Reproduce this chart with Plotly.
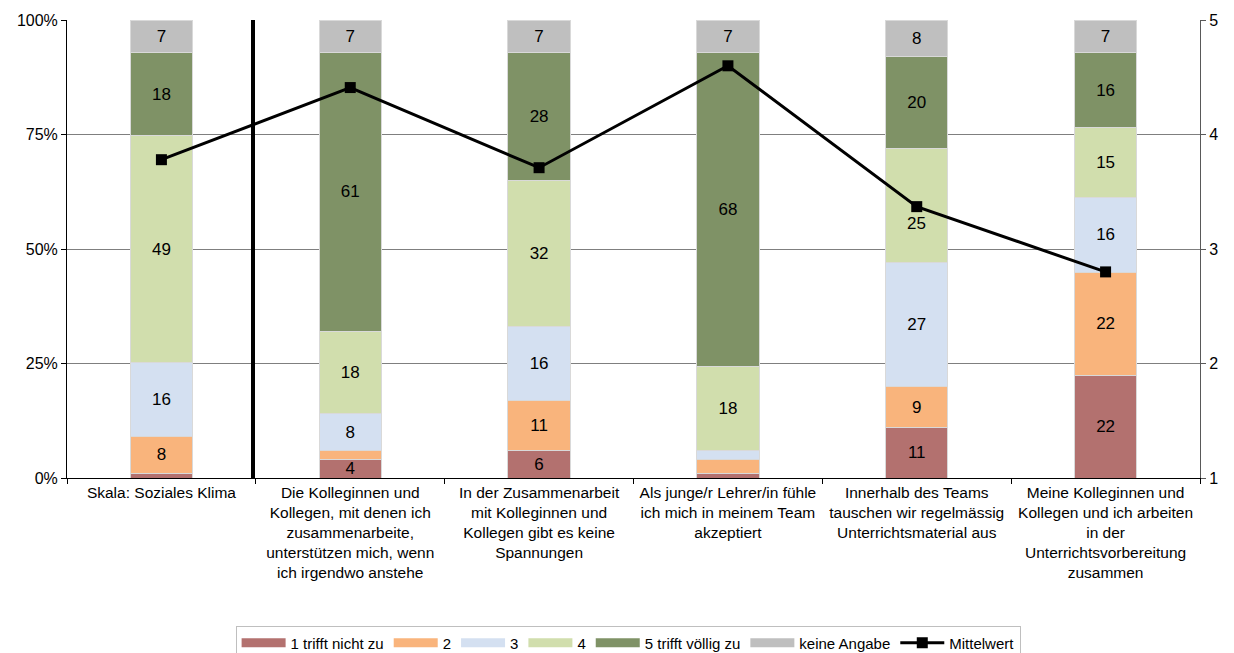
import plotly.graph_objects as go

# Items (x-axis categories)
categories = [
    "Skala: Soziales Klima",
    "Die Kolleginnen und<br>Kollegen, mit denen ich<br>zusammenarbeite,<br>unterstützen mich, wenn<br>ich irgendwo anstehe",
    "In der Zusammenarbeit<br>mit Kolleginnen und<br>Kollegen gibt es keine<br>Spannungen",
    "Als junge/r Lehrer/in fühle<br>ich mich in meinem Team<br>akzeptiert",
    "Innerhalb des Teams<br>tauschen wir regelmässig<br>Unterrichtsmaterial aus",
    "Meine Kolleginnen und<br>Kollegen und ich arbeiten<br>in der<br>Unterrichtsvorbereitung<br>zusammen",
]

# Answer shares in percent per answer category
trifft_nicht_zu = [1, 4, 6, 1, 11, 22]
stufe_2 = [8, 2, 11, 3, 9, 22]
stufe_3 = [16, 8, 16, 2, 27, 16]
stufe_4 = [49, 18, 32, 18, 25, 15]
trifft_voellig_zu = [18, 61, 28, 68, 20, 16]
keine_angabe = [7, 7, 7, 7, 8, 7]

# Mean score on the 1-5 scale
mittelwert = [3.78, 4.41, 3.71, 4.60, 3.37, 2.80]

# Left axis ticks
pct_ticks = [0, 25, 50, 75, 100]
pct_labels = ["0%", "25%", "50%", "75%", "100%"]

series = [
    ("1 trifft nicht zu", trifft_nicht_zu, "#B3716F"),
    ("2", stufe_2, "#F9B47C"),
    ("3", stufe_3, "#D4E0F1"),
    ("4", stufe_4, "#D1DEAD"),
    ("5 trifft völlig zu", trifft_voellig_zu, "#7F9266"),
    ("keine Angabe", keine_angabe, "#BFBFBF"),
]

FONT = "Liberation Sans, Arial, sans-serif"

# Label of the mean marker's neighbour segment that is nudged downwards
SHIFTED = (4, 3)  # (category index, series index)

fig = go.Figure()
for s_idx, (name, vals, color) in enumerate(series):
    labels = []
    for c_idx, v in enumerate(vals):
        if v < 4 or (c_idx, s_idx) == SHIFTED:
            labels.append("")
        else:
            labels.append(str(v))
    fig.add_trace(go.Bar(
        x=categories, y=vals, name=name, showlegend=False,
        marker=dict(color=color, line=dict(color="#D9D9D9", width=1)),
        text=labels,
        textposition="inside", insidetextanchor="middle", textangle=0,
        textfont=dict(color="black", size=17, family=FONT),
        hoverinfo="skip",
    ))
    # legend entry drawn as a wide flat swatch
    fig.add_trace(go.Scatter(
        x=[None], y=[None], name=name, mode="lines",
        line=dict(color=color, width=9), legendgroup=name,
    ))

fig.add_trace(go.Scatter(
    x=categories, y=mittelwert, name="Mittelwert", yaxis="y2",
    mode="lines+markers",
    line=dict(color="black", width=3),
    marker=dict(symbol="square", size=11, color="black"),
))

# Nudged label: placed at its segment's midpoint, shifted below the marker
c_idx, s_idx = SHIFTED
col_total = sum(s[1][c_idx] for s in series)
below = sum(s[1][c_idx] for s in series[:s_idx])
seg_val = series[s_idx][1][c_idx]
mid_pct = (below + seg_val / 2) / col_total * 100
fig.add_annotation(
    x=categories[c_idx], y=mid_pct, xref="x", yref="y",
    text=str(seg_val), showarrow=False, yshift=-18,
    font=dict(color="black", size=17, family=FONT),
)

fig.update_layout(
    width=1234, height=653,
    margin=dict(l=67, r=34, t=20, b=175, autoexpand=False),
    paper_bgcolor="white", plot_bgcolor="white",
    barmode="stack", barnorm="percent", bargap=0.67,
    font=dict(family=FONT, size=16, color="black"),
    uniformtext=dict(minsize=17, mode="show"),
    showlegend=True,
    legend=dict(
        orientation="h", x=0.509, xanchor="center", xref="container",
        y=0.042, yanchor="top", yref="container",
        font=dict(size=15, family=FONT),
        bordercolor="#BFBFBF", borderwidth=1, itemwidth=44,
        tracegroupgap=0, traceorder="normal",
    ),
    xaxis=dict(
        showline=True, linecolor="black", linewidth=1,
        ticks="outside", tickson="boundaries", ticklen=5, tickcolor="black",
        tickfont=dict(size=15.5), tickangle=0,
        range=[-0.5, 5.5], automargin=False,
    ),
    yaxis=dict(
        range=[0, 100], tickvals=pct_ticks, ticktext=pct_labels,
        showline=True, linecolor="black", linewidth=1,
        ticks="outside", ticklen=5, tickcolor="black",
        showgrid=True, gridcolor="#7F7F7F", gridwidth=1,
        tickfont=dict(size=16), zeroline=False, automargin=False,
    ),
    yaxis2=dict(
        overlaying="y", side="right", range=[1, 5], dtick=1,
        showline=True, linecolor="#595959", linewidth=1,
        ticks="outside", ticklen=5, tickcolor="#595959",
        showgrid=False, zeroline=False, tickfont=dict(size=16),
        automargin=False,
    ),
)

# Separator between the scale and its single items
fig.add_shape(type="line", xref="x", yref="y", x0=0.485, x1=0.485, y0=0, y1=100,
              line=dict(color="black", width=4), layer="above")

fig.write_html("out.html")
